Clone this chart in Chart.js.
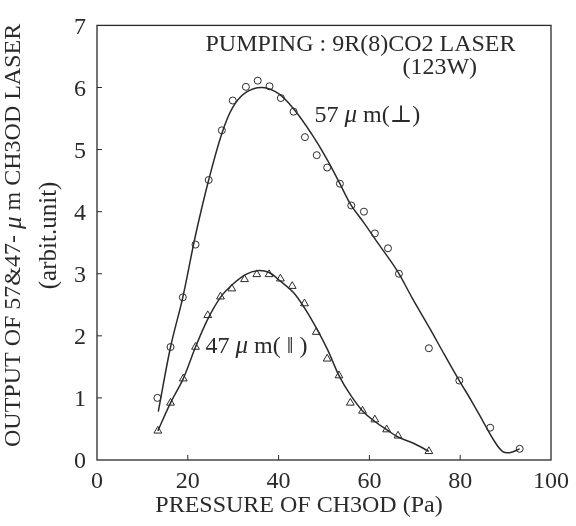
<!DOCTYPE html>
<html>
<head>
<meta charset="utf-8">
<script src="https://cdn.jsdelivr.net/npm/chart.js@4/dist/chart.umd.min.js"></script>
<style>
  body { margin: 0; background: #fff; }
  #wrap { width: 576px; height: 526px; }
</style>
</head>
<body>
<div id="wrap"><canvas id="chart" width="576" height="526"></canvas></div>
<script>
// measured points, 57 um (perpendicular) - circles
const x57 = [13.3, 16.2, 18.9, 21.7, 24.6, 27.5, 29.9, 32.8, 35.4, 38.0, 40.5, 43.3, 45.8, 48.4, 50.7, 53.5, 56.0, 58.8, 61.2, 64.1, 66.5, 73.1, 79.8, 86.6, 93.1];
const y57 = [1.00, 1.82, 2.62, 3.47, 4.51, 5.31, 5.79, 6.01, 6.11, 6.02, 5.83, 5.61, 5.20, 4.91, 4.71, 4.45, 4.10, 4.00, 3.65, 3.41, 3.00, 1.80, 1.28, 0.52, 0.18];

// measured points, 47 um (parallel) - triangles
const x47 = [13.4, 16.2, 19.0, 21.7, 24.4, 27.2, 29.7, 32.5, 35.2, 37.9, 40.4, 43.0, 45.7, 48.3, 50.7, 53.3, 55.8, 58.5, 61.2, 63.8, 66.3, 73.1];
const y47 = [0.47, 0.92, 1.31, 1.82, 2.33, 2.63, 2.76, 2.91, 2.99, 2.99, 2.92, 2.80, 2.52, 2.06, 1.63, 1.36, 0.92, 0.79, 0.65, 0.49, 0.39, 0.14];

// hand drawn fit curves
const fitX57 = [13.5, 16.2, 18.9, 21.7, 24.6, 27.5, 29.9, 32.8, 36.4, 40.0, 43.6, 47.2, 50.7, 53.5, 56.0, 58.8, 62.0, 66.1, 69.5, 73.3, 76.5, 79.8, 82.5, 84.9, 87.3, 89.3, 91.1, 93.1];
const fitY57 = [0.78, 1.82, 2.62, 3.62, 4.51, 5.26, 5.68, 5.92, 6.00, 5.90, 5.63, 5.26, 4.84, 4.45, 4.10, 3.82, 3.48, 3.05, 2.60, 2.12, 1.70, 1.28, 0.95, 0.64, 0.33, 0.14, 0.12, 0.18];

const fitX47 = [13.4, 16.2, 19.0, 21.7, 24.4, 27.2, 29.9, 32.8, 35.3, 37.9, 40.4, 43.6, 47.2, 50.7, 53.3, 55.9, 58.5, 61.2, 63.8, 66.3, 69.7, 73.1];
const fitY47 = [0.47, 0.92, 1.31, 1.82, 2.27, 2.62, 2.83, 2.99, 3.05, 3.02, 2.88, 2.67, 2.27, 1.79, 1.36, 1.04, 0.79, 0.62, 0.49, 0.37, 0.27, 0.14];

const xTicks = [0, 20, 40, 60, 80, 100];
const yTicks = [0, 1, 2, 3, 4, 5, 6, 7];

const INK = '#2a2a2a';
const SERIF = "'Liberation Serif', 'DejaVu Serif', serif";

function pairs(xs, ys) {
    return xs.map((x, i) => ({ x: x, y: ys[i] }));
}

// texts inside the plot, anchored in data units
const notes = [
    { x: 23.9, y: 6.59, align: 'left', parts: [['PUMPING : 9R(8)CO2 LASER', '24px']] },
    { x: 75.5, y: 6.22, align: 'center', parts: [['(123W)', '24px']] },
    { x: 47.9, y: 5.44, align: 'left', parts: [['57 ', '24px'], ['\u03bc', 'italic 25px'], [' m(\u22a5)', '24px']] },
    { x: 23.9, y: 1.72, align: 'left', parts: [['47 ', '24px'], ['\u03bc', 'italic 25px'], [' m( \u2016 )', '24px']] }
];

function drawParts(ctx, parts, x, y, align) {
    let total = 0;
    parts.forEach(p => {
        ctx.font = p[1] + ' ' + SERIF;
        total += ctx.measureText(p[0]).width;
    });
    let cx = align === 'center' ? x - total / 2 : x;
    parts.forEach(p => {
        ctx.font = p[1] + ' ' + SERIF;
        ctx.fillText(p[0], cx, y);
        cx += ctx.measureText(p[0]).width;
    });
}

const paperPlugin = {
    id: 'paper',
    afterDraw(chart) {
        const ctx = chart.ctx;
        const a = chart.chartArea;
        const xs = chart.scales.x, ys = chart.scales.y;
        ctx.save();
        ctx.strokeStyle = INK;
        ctx.fillStyle = INK;
        ctx.lineWidth = 1.3;
        ctx.strokeRect(a.left, a.top, a.right - a.left, a.bottom - a.top);

        // small inward tick marks
        ctx.lineWidth = 1;
        ctx.beginPath();
        xTicks.slice(1, -1).forEach(v => {
            const px = xs.getPixelForValue(v);
            ctx.moveTo(px, a.bottom);
            ctx.lineTo(px, a.bottom - 5);
        });
        yTicks.slice(1, -1).forEach(v => {
            const py = ys.getPixelForValue(v);
            ctx.moveTo(a.left, py);
            ctx.lineTo(a.left + 5, py);
        });
        ctx.stroke();

        ctx.textBaseline = 'alphabetic';
        notes.forEach(n => {
            drawParts(ctx, n.parts, xs.getPixelForValue(n.x), ys.getPixelForValue(n.y), n.align);
        });

        // x axis title
        ctx.textAlign = 'left';
        drawParts(ctx, [['PRESSURE OF CH3OD (Pa)', '24px']], a.left + 202, a.bottom + 52, 'center');

        // y axis title, two rotated lines
        ctx.translate(14, a.top + 210);
        ctx.rotate(-Math.PI / 2);
        ctx.textBaseline = 'middle';
        drawParts(ctx, [['OUTPUT OF 57&47- ', '24px'], ['\u03bc', 'italic 25px'], [' m CH3OD LASER', '24px']], 0, 0, 'center');
        drawParts(ctx, [['(arbit.unit)', '25px']], 0, 35, 'center');
        ctx.restore();
    }
};

Chart.defaults.font.family = SERIF;
Chart.defaults.color = INK;

new Chart(document.getElementById('chart'), {
    type: 'scatter',
    data: {
        datasets: [
            {
                label: 'fit 57',
                data: pairs(fitX57, fitY57),
                showLine: true,
                tension: 0.35,
                pointRadius: 0,
                borderColor: INK,
                borderWidth: 1.5
            },
            {
                label: '57 um',
                data: pairs(x57, y57),
                pointStyle: 'circle',
                pointRadius: 3.5,
                borderColor: INK,
                backgroundColor: 'rgba(0,0,0,0)',
                borderWidth: 1
            },
            {
                label: 'fit 47',
                data: pairs(fitX47, fitY47),
                showLine: true,
                tension: 0.35,
                pointRadius: 0,
                borderColor: INK,
                borderWidth: 1.5
            },
            {
                label: '47 um',
                data: pairs(x47, y47),
                pointStyle: 'triangle',
                pointRadius: 4.5,
                borderColor: INK,
                backgroundColor: 'rgba(0,0,0,0)',
                borderWidth: 1
            }
        ]
    },
    options: {
        responsive: false,
        animation: false,
        clip: false,
        layout: { padding: { top: 21, right: 18, left: 0, bottom: 0 } },
        plugins: {
            legend: { display: false },
            tooltip: { enabled: false }
        },
        scales: {
            x: {
                type: 'linear',
                min: 0,
                max: 100,
                afterBuildTicks: s => { s.ticks = xTicks.map(v => ({ value: v })); },
                afterFit: s => { s.height = 66; },
                grid: { display: false, drawTicks: false },
                border: { display: false },
                ticks: { padding: 7, font: { size: 24 }, color: INK, maxRotation: 0 }
            },
            y: {
                type: 'linear',
                min: 0,
                max: 7,
                afterBuildTicks: s => { s.ticks = yTicks.map(v => ({ value: v })); },
                afterFit: s => { s.width = 97; },
                grid: { display: false, drawTicks: false },
                border: { display: false },
                ticks: { padding: 11, labelOffset: 2, font: { size: 24 }, color: INK }
            }
        }
    },
    plugins: [paperPlugin]
});
</script>
</body>
</html>
